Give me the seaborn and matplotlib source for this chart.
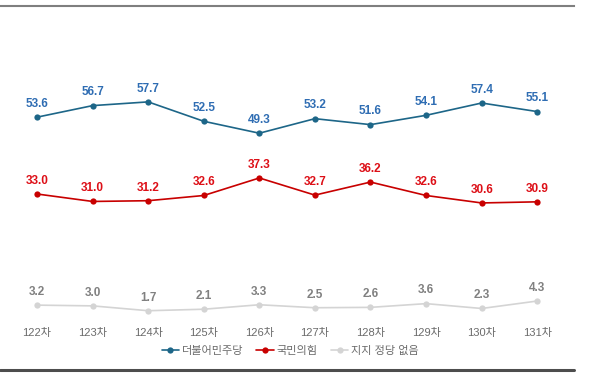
import matplotlib
matplotlib.use("Agg")
import matplotlib.pyplot as plt
from matplotlib.lines import Line2D
import seaborn as sns

# survey rounds and support (%) per party
rounds = ["122차", "123차", "124차", "125차", "126차", "127차", "128차", "129차", "130차", "131차"]
democratic = [53.6, 56.7, 57.7, 52.5, 49.3, 53.2, 51.6, 54.1, 57.4, 55.1]
ppp = [33.0, 31.0, 31.2, 32.6, 37.3, 32.7, 36.2, 32.6, 30.6, 30.9]
no_party = [3.2, 3.0, 1.7, 2.1, 3.3, 2.5, 2.6, 3.6, 2.3, 4.3]

series_names = ["더불어민주당", "국민의힘", "지지 정당 없음"]
line_colors = ["#1D6688", "#C80000", "#D4D4D4"]
label_colors = ["#2F6DB3", "#DD0F17", "#808080"]

sns.set_theme(style="white")
plt.rcParams["font.family"] = ["Liberation Sans", "Noto Sans CJK KR", "DejaVu Sans"]

fig = plt.figure(figsize=(6, 3.78), dpi=100)
ax = fig.add_axes([0, 0.148, 0.957, 0.836])

x = list(range(len(rounds)))
for vals, name, lc, tc in zip([democratic, ppp, no_party], series_names, line_colors, label_colors):
    sns.lineplot(x=x, y=vals, ax=ax, color=lc, marker="o", markersize=4.5,
                 markeredgewidth=0, linewidth=1.2, label=name)
    for xi, v in zip(x, vals):
        ax.annotate(f"{v:.1f}", (xi, v), xytext=(0, 9.5), textcoords="offset points",
                    ha="center", va="center", fontsize=8.5, fontweight="bold", color=tc)

ax.set_xlim(-0.666, 9.665)
ax.set_ylim(-1.34, 83.4)
ax.set_xticks(x)
ax.set_xticklabels(rounds, fontsize=8, color="#6B6B6B")
ax.set_yticks([])
ax.tick_params(axis="x", length=0, pad=4)
for side in ["left", "right", "bottom"]:
    ax.spines[side].set_visible(False)
ax.spines["top"].set_color("#7F7F7F")
ax.spines["top"].set_linewidth(1.5)

ax.get_legend().remove()
handles, labels = ax.get_legend_handles_labels()
fig.legend(handles, labels, loc="center", bbox_to_anchor=(290 / 600, 27 / 378),
           ncol=3, frameon=False, fontsize=8, handlelength=1.6, handletextpad=0.2,
           columnspacing=1.2, labelcolor="#6B6B6B")

# bottom rule
fig.add_artist(Line2D([0, 0.957], [8 / 378, 8 / 378], color="#4D4D4D", linewidth=2.2,
                      transform=fig.transFigure))

fig.savefig("out.png", dpi=100)
